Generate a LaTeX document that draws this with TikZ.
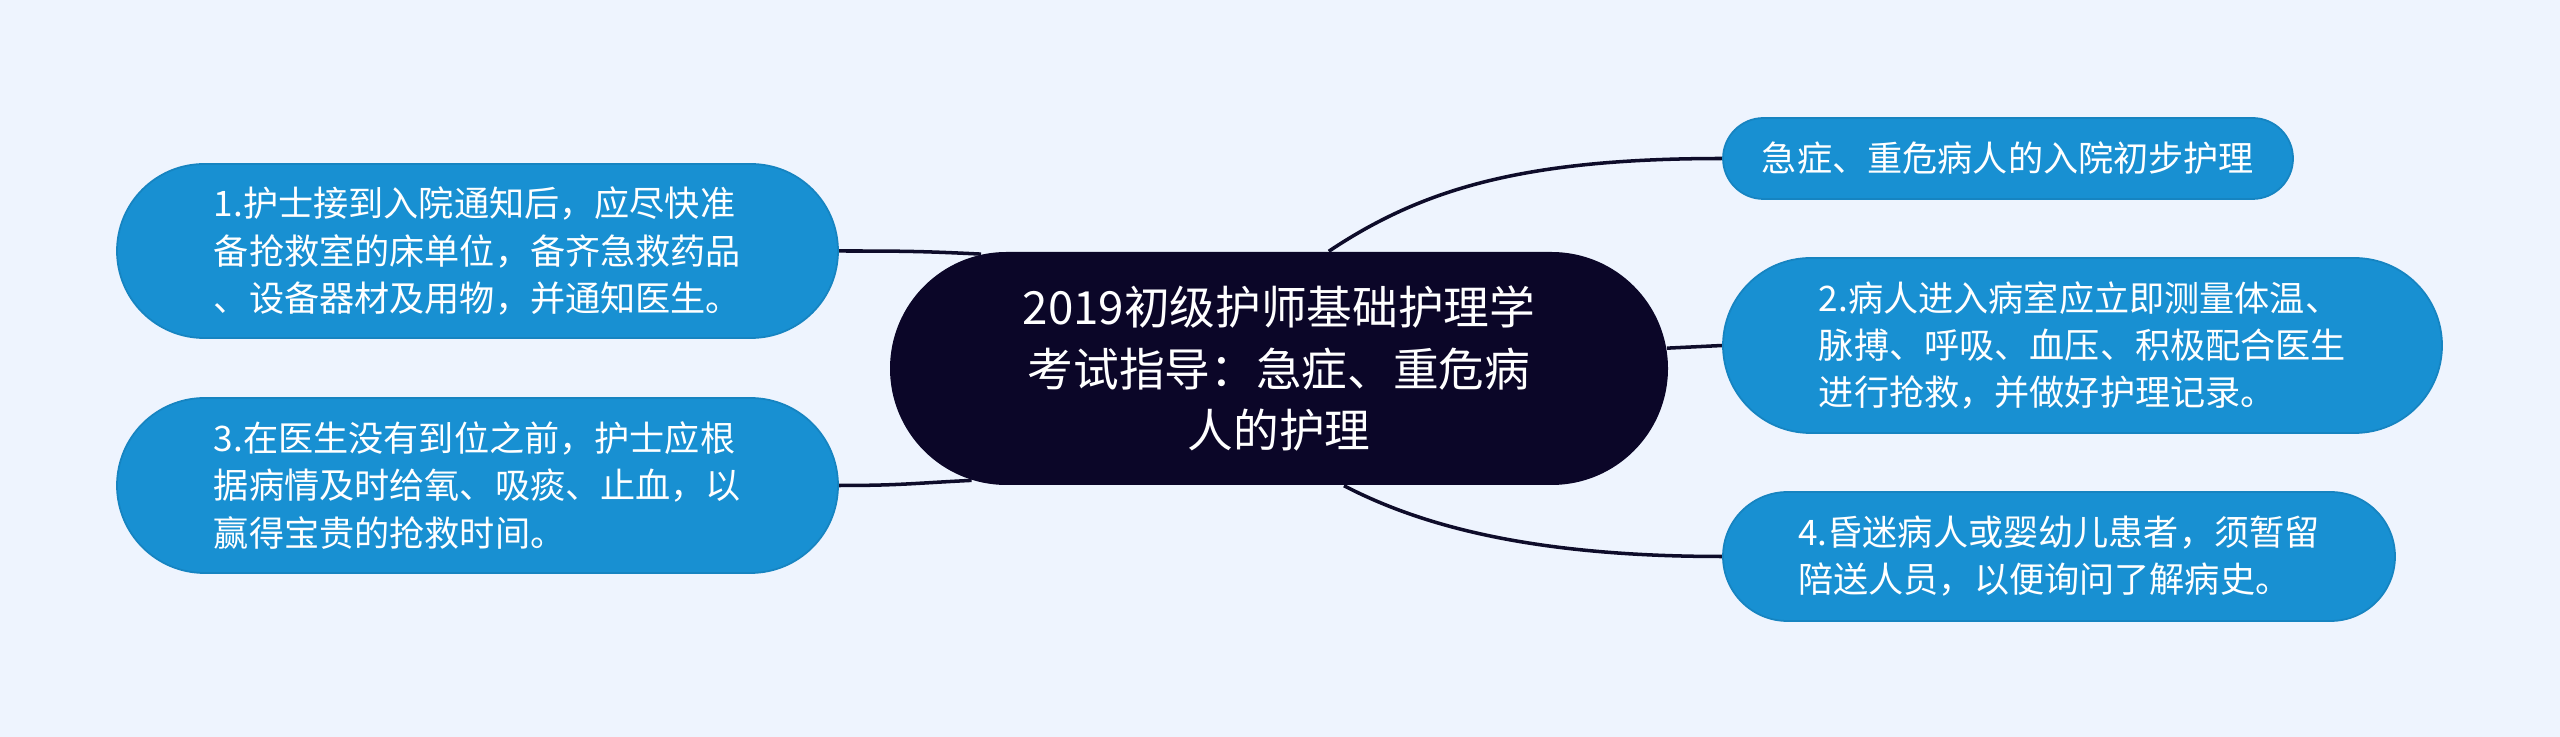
\documentclass[tikz,border=0pt]{standalone}
\usepackage{fontspec}
\setmainfont{Noto Sans CJK SC}
\usepackage{xcolor}
\usepackage{tikz}
\usetikzlibrary{shapes.misc}
\usetikzlibrary{backgrounds}
\definecolor{hgrund}{RGB}{238,244,254}
\definecolor{dunkel}{RGB}{11,6,40}
\definecolor{blau}{RGB}{24,144,210}
\definecolor{linienfarbe}{RGB}{14,12,42}

\begin{document}
\begin{tikzpicture}[
  mitte/.style={rounded rectangle, fill=dunkel, text=white, align=center, inner sep=0pt, font=\fontsize{13}{17.6}\selectfont},
  zweig/.style={rounded rectangle, fill=blau, draw=blau!92!black, line width=0.5pt, text=white, align=left, inner sep=0pt, font=\fontsize{10}{13.4}\selectfont},
  linie/.style={draw=linienfarbe, line width=1pt}
]

\begin{pgfonlayer}{background}
\fill[hgrund] (0,0) rectangle (25.6,-7.37);	% Hintergrund
\end{pgfonlayer}
\useasboundingbox (0,0) rectangle (25.6,-7.37);

\node[mitte, minimum width=7.78cm, minimum height=2.33cm] (root) at (12.79,-3.685) {2019初级护师基础护理学\\考试指导：急症、重危病\\人的护理};	% Thema

\node[zweig, minimum width=7.21cm, minimum height=1.74cm] (n1) at (4.775,-2.51) {1.护士接到入院通知后，应尽快准\\备抢救室的床单位，备齐急救药品\\、设备器材及用物，并通知医生。};	% links oben
\node[zweig, minimum width=7.21cm, minimum height=1.75cm] (n3) at (4.775,-4.855) {3.在医生没有到位之前，护士应根\\据病情及时给氧、吸痰、止血，以\\赢得宝贵的抢救时间。};	% links unten

\node[zweig, minimum width=5.70cm, minimum height=0.81cm] (intro) at (20.08,-1.585) {急症、重危病人的入院初步护理};	% rechts oben
\node[zweig, minimum width=7.19cm, minimum height=1.75cm] (n2) at (20.825,-3.455) {2.病人进入病室应立即测量体温、\\脉搏、呼吸、血压、积极配合医生\\进行抢救，并做好护理记录。};	% rechts mitte
\node[zweig, minimum width=6.72cm, minimum height=1.29cm] (n4) at (20.59,-5.565) {4.昏迷病人或婴幼儿患者，须暂留\\陪送人员，以便询问了解病史。};	% rechts unten

\begin{pgfonlayer}{background}
\draw[linie] (root.67.6) .. controls +(0.93,0.62) and +(-2.0,0) .. (intro.west);	% Ast rechts oben
\draw[linie] (root.3.5) -- (n2.west);	% Ast rechts mitte
\draw[linie] (root.-61.2) .. controls +(0.77,-0.40) and +(-1.9,0) .. (n4.west);	% Ast rechts unten
\draw[linie] (n1.east) .. controls +(0.6,0) and +(-0.6,0.03) .. (root.159.2);	% Ast links oben
\draw[linie] (n3.east) .. controls +(0.6,0) and +(-0.6,-0.03) .. (root.200.8);	% Ast links unten
\end{pgfonlayer}

\end{tikzpicture}
\end{document}
